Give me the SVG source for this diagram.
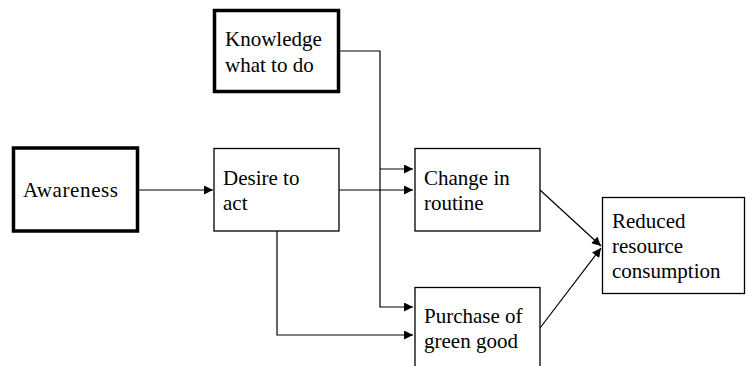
<svg xmlns="http://www.w3.org/2000/svg" width="746" height="366" viewBox="0 0 746 366">
  <style>
    .box { fill: #fff; stroke: #000; stroke-width: 1.3; }
    .bold { stroke-width: 3.5; }
    .lbl { font-family: "Liberation Serif", "Times New Roman", serif; font-size: 21px; fill: #000; }
    .wire { fill: none; stroke: #000; stroke-width: 1.2; }
  </style>
  <defs>
    <marker id="arrow" viewBox="0 0 10 10" refX="10" refY="5" markerWidth="10" markerHeight="9" markerUnits="userSpaceOnUse" orient="auto">
      <path d="M0,0 L10,5 L0,10 z" fill="#000"/>
    </marker>
  </defs>

  <rect width="746" height="366" fill="#fff"/>

  <g id="connectors">
    <polyline class="wire" points="340,51 380,51 380,307 413,307" marker-end="url(#arrow)"/>
    <line class="wire" x1="380" y1="169" x2="413" y2="169" marker-end="url(#arrow)"/>
    <line class="wire" x1="138" y1="190" x2="213" y2="190" marker-end="url(#arrow)"/>
    <line class="wire" x1="339" y1="190" x2="413" y2="190" marker-end="url(#arrow)"/>
    <polyline class="wire" points="277,231 277,335 413,335" marker-end="url(#arrow)"/>
    <line class="wire" x1="540" y1="190" x2="601" y2="246" marker-end="url(#arrow)"/>
    <line class="wire" x1="540" y1="328" x2="601" y2="248" marker-end="url(#arrow)"/>
  </g>

  <g id="knowledge">
    <rect class="box bold" x="214.5" y="10.5" width="124" height="81"/>
    <text class="lbl" x="225" y="46">Knowledge</text>
    <text class="lbl" x="225" y="72">what to do</text>
  </g>

  <g id="awareness">
    <rect class="box bold" x="13.5" y="148" width="124" height="83"/>
    <text class="lbl" x="23" y="197" letter-spacing="0.6">Awareness</text>
  </g>

  <g id="desire">
    <rect class="box" x="214" y="148.5" width="125" height="82.5"/>
    <text class="lbl" x="223" y="185">Desire to</text>
    <text class="lbl" x="223" y="210">act</text>
  </g>

  <g id="change">
    <rect class="box" x="415" y="148.5" width="125" height="82.5"/>
    <text class="lbl" x="424" y="185">Change in</text>
    <text class="lbl" x="424" y="210">routine</text>
  </g>

  <g id="purchase">
    <rect class="box" x="415" y="287.5" width="125" height="90"/>
    <text class="lbl" x="424" y="323">Purchase of</text>
    <text class="lbl" x="424" y="348">green good</text>
  </g>

  <g id="reduced">
    <rect class="box" x="602.5" y="197.5" width="142" height="96"/>
    <text class="lbl" x="612" y="228">Reduced</text>
    <text class="lbl" x="612" y="253">resource</text>
    <text class="lbl" x="612" y="278">consumption</text>
  </g>
</svg>
